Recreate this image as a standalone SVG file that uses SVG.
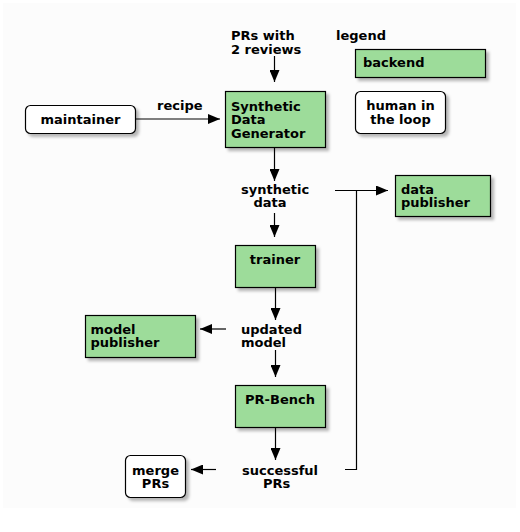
<svg xmlns="http://www.w3.org/2000/svg" width="520" height="532" viewBox="0 0 520 532">
<defs>
<filter id="sh" x="-20%" y="-20%" width="150%" height="160%"><feDropShadow dx="3" dy="3" stdDeviation="1.8" flood-color="#000" flood-opacity="0.28"/></filter>
<marker id="ah" markerWidth="12" markerHeight="10" refX="12" refY="5" orient="auto" markerUnits="userSpaceOnUse"><path d="M0,0 L12,5 L0,10 z" fill="#000"/></marker>
</defs>
<style>
text{font-family:"DejaVu Sans",Verdana,sans-serif;font-weight:bold;font-size:13px;fill:#000}
.b{fill:#9ddc9a;stroke:#000;stroke-width:1.2;filter:url(#sh)}
.h{fill:#fff;stroke:#000;stroke-width:1.2;filter:url(#sh)}
.c{fill:none;stroke:#000;stroke-width:1.2}
.a{marker-end:url(#ah)}
.m{text-anchor:middle}
</style>
<rect x="0" y="0" width="520" height="532" fill="#fff"/>
<rect x="3" y="3" width="513" height="505" fill="#fcfcfc"/>
<g id="connectors">
<path class="c a" d="M274.5,56 V82"/>
<path class="c a" d="M135,119 H220"/>
<path class="c a" d="M274.5,148 V181"/>
<path class="c a" d="M274.5,213 V237"/>
<path class="c a" d="M335,190.5 H388"/>
<path class="c" d="M345,469.5 H356.5 V190.5"/>
<path class="c a" d="M275.5,287 V320"/>
<path class="c a" d="M226,329 H200"/>
<path class="c a" d="M275.5,350 V377"/>
<path class="c a" d="M275.5,427 V460"/>
<path class="c a" d="M216,469.5 H191"/>
</g>
<g id="labels">
<text x="231" y="39.5">PRs with</text>
<text x="231" y="53.5">2 reviews</text>
<text x="336" y="39.5">legend</text>
<text x="157" y="110">recipe</text>
<text x="241" y="193.5">synthetic</text>
<text x="253.5" y="207">data</text>
<text x="241" y="333.5">updated</text>
<text x="241" y="347">model</text>
<text x="242" y="474.5">successful</text>
<text x="263" y="488">PRs</text>
</g>
<g id="maintainer">
<rect class="h" x="25.5" y="105.5" width="110" height="28" rx="5"/>
<text class="m" x="80.5" y="124">maintainer</text>
</g>
<g id="sdg">
<rect class="b" x="225.5" y="91.5" width="100" height="56"/>
<text x="231" y="110.5">Synthetic</text>
<text x="231" y="124">Data</text>
<text x="231" y="137.5">Generator</text>
</g>
<g id="legend-backend">
<rect class="b" x="355.5" y="49.5" width="130" height="28"/>
<text x="363" y="67">backend</text>
</g>
<g id="legend-human">
<rect class="h" x="355.5" y="91.5" width="90" height="42" rx="5"/>
<text class="m" x="400.5" y="110">human in</text>
<text class="m" x="400.5" y="124">the loop</text>
</g>
<g id="data-publisher">
<rect class="b" x="395.5" y="175.5" width="95" height="41"/>
<text x="401" y="193.5">data</text>
<text x="401" y="207">publisher</text>
</g>
<g id="trainer">
<rect class="b" x="235.5" y="245.5" width="80" height="42"/>
<text class="m" x="275" y="263.5">trainer</text>
</g>
<g id="model-publisher">
<rect class="b" x="85.5" y="315.5" width="110" height="42"/>
<text x="90.5" y="333.5">model</text>
<text x="90.5" y="347">publisher</text>
</g>
<g id="pr-bench">
<rect class="b" x="235.5" y="385.5" width="90" height="42"/>
<text class="m" x="280" y="404">PR-Bench</text>
</g>
<g id="merge-prs">
<rect class="h" x="125.5" y="455.5" width="60" height="42" rx="5"/>
<text class="m" x="155.5" y="474.5">merge</text>
<text class="m" x="155.5" y="488">PRs</text>
</g>
</svg>
